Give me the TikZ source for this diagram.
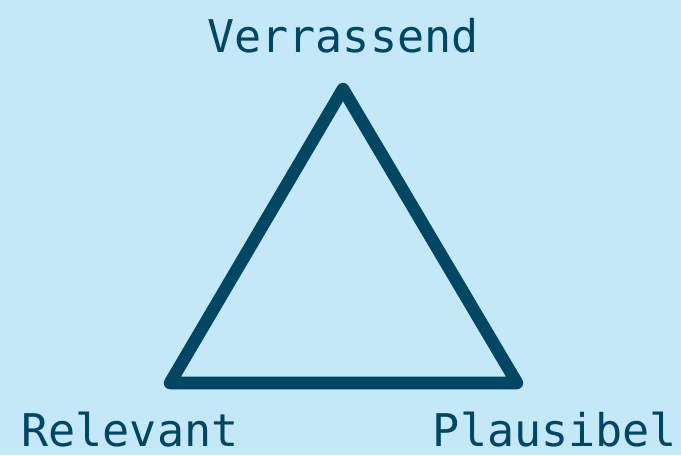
\documentclass[tikz,border=0pt]{standalone}
\usepackage{fontspec}
\newfontfamily\labelfont{DejaVu Sans Mono}
\definecolor{bgblue}{HTML}{C5E8F8}
\definecolor{darkteal}{HTML}{014663}
\usetikzlibrary{calc}

\begin{document}
\begin{tikzpicture}[
  x=0.75pt, y=-0.75pt,
  corner/.style={font=\labelfont\fontsize{33.8}{40}\selectfont, text=darkteal,
                 anchor=base, inner sep=0pt, text depth=0pt},
  edge/.style={draw=darkteal, line width=9.4pt, line join=round, line cap=round}
]
% Background
\fill[bgblue] (0,0) rectangle (681,455);
\useasboundingbox (0,0) rectangle (681,455);

% Vertices
\coordinate (top)   at (343,89);
\coordinate (left)  at (170,383);
\coordinate (right) at (517,383);

% Triangle
\draw[edge] (top) -- (right) -- (left) -- cycle;

% Labels
\node[corner] at (343,52)  (verrassend) {Verrassend};
\node[corner] at (130,446) (relevant)   {Relevant};
\node[corner] at (555,446) (plausibel)  {Plausibel};
\end{tikzpicture}
\end{document}
